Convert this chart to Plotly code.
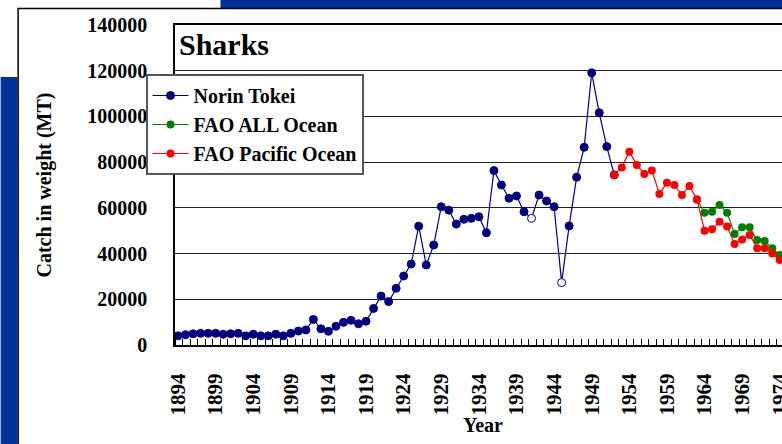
import plotly.graph_objects as go

# ---- data ----
norin_years = list(range(1894, 1953))
norin_catch = [4000, 4500, 4900, 5100, 5100, 5100, 4700, 4900, 5100, 4000,
               4700, 4000, 4000, 4700, 4000, 5100, 6100, 6600, 11200, 7100,
               6000, 8200, 9900, 10800, 9300, 10400, 16000, 21400, 19000, 24800,
               30200, 35400, 52000, 35000, 43750, 60500, 59000, 52900, 55000, 55400,
               56100, 49100, 76300, 70000, 64200, 65200, 58300, 55400, 65600, 63000,
               60500, 27300, 52100, 73400, 86500, 119100, 101600, 86800, 74400]
norin_hollow_years = [1941, 1945]

fao_all_years = list(range(1963, 1975))
fao_all_catch = [63700, 57900, 58300, 61250, 57900, 48600, 51500, 51500,
                 45900, 45500, 42300, 39400]

fao_pac_years = list(range(1952, 1975))
fao_pac_catch = [74400, 77700, 84600, 78750, 74800, 76300, 66100, 71000, 70000,
                 65600, 69600, 63700, 50000, 50600, 53900, 51800, 44200, 46200,
                 48100, 42300, 42300, 40100, 37200]

label_years = list(range(1894, 1975, 5))
y_ticks = list(range(0, 140001, 20000))

FONT = "Liberation Serif, Times New Roman, serif"
NAVY = "#000080"
GREEN = "#008000"
RED = "#FF0000"

fig = go.Figure()

norin_fill = ["white" if y in norin_hollow_years else NAVY for y in norin_years]
fig.add_trace(go.Scatter(
    x=norin_years, y=norin_catch, name="Norin Tokei", mode="lines+markers",
    line=dict(color=NAVY, width=1.2),
    marker=dict(size=8, color=norin_fill, line=dict(color=NAVY, width=1)),
))
fig.add_trace(go.Scatter(
    x=fao_all_years, y=fao_all_catch, name="FAO ALL Ocean", mode="lines+markers",
    line=dict(color=GREEN, width=1.2),
    marker=dict(size=8, color=GREEN, line=dict(width=0)),
))
fig.add_trace(go.Scatter(
    x=fao_pac_years, y=fao_pac_catch, name="FAO Pacific Ocean", mode="lines+markers",
    line=dict(color=RED, width=1.2),
    marker=dict(size=8, color=RED, line=dict(width=0)),
))

# pixel helpers for decoration placement (plot area: x 174.5..782, y 25..345)
L, R, T, B = 174.5, 782.0, 25.0, 345.0
def px(x):
    return (x - L) / (R - L)
def py(y):
    return (B - y) / (B - T)

BLUE = "#003399"
shapes = [
    dict(type="rect", xref="paper", yref="paper", layer="below",
         x0=px(0), x1=px(17), y0=py(444), y1=py(77),
         fillcolor=BLUE, line=dict(width=0)),
    dict(type="rect", xref="paper", yref="paper", layer="below",
         x0=px(220), x1=px(782), y0=py(8), y1=py(0),
         fillcolor=BLUE, line=dict(width=0)),
    dict(type="line", xref="paper", yref="paper", layer="below",
         x0=px(17.5), x1=px(17.5), y0=py(8), y1=py(444),
         line=dict(color="black", width=1.5)),
    dict(type="line", xref="paper", yref="paper", layer="below",
         x0=px(17), x1=px(782), y0=py(8.5), y1=py(8.5),
         line=dict(color="black", width=1.5)),
]

fig.update_layout(
    width=782, height=444,
    margin=dict(l=L, r=0, t=T, b=444 - B, pad=0, autoexpand=False),
    paper_bgcolor="white", plot_bgcolor="white",
    font=dict(family=FONT, color="black", size=20, weight="bold"),
    showlegend=True,
    legend=dict(
        x=px(145), y=py(74), xanchor="left", yanchor="top",
        bgcolor="white", bordercolor="#555555", borderwidth=2,
        font=dict(family=FONT, size=20, weight="bold", color="black"),
        itemwidth=36,
    ),
    shapes=shapes,
    annotations=[
        dict(text="Sharks", xref="paper", yref="paper",
             x=px(177), y=py(26), xanchor="left", yanchor="top", showarrow=False,
             font=dict(family=FONT, size=30, weight="bold", color="black")),
        dict(text="Year", xref="paper", yref="paper",
             x=px(483), y=py(425), xanchor="center", yanchor="middle", showarrow=False,
             font=dict(family=FONT, size=20, weight="bold", color="black")),
    ],
)

fig.update_xaxes(
    range=[1893.6, 1974.3], automargin=False,
    tickmode="array", tickvals=label_years, ticktext=[str(y) for y in label_years],
    tickangle=-90, ticks="", ticklabelstandoff=18, ticklabeloverflow="allow",
    tickfont=dict(family=FONT, size=21, weight="bold"),
    minor=dict(ticks="inside", ticklen=6, tickcolor="black", tickwidth=1,
               tick0=1893.6, dtick=1, showgrid=False),
    showline=True, linecolor="black", linewidth=2, mirror=True,
    showgrid=False, zeroline=False,
)
fig.update_yaxes(
    range=[0, 140000], automargin=False,
    tickmode="array", tickvals=y_ticks, ticktext=[str(v) for v in y_ticks],
    ticks="", ticklabelstandoff=22,
    tickfont=dict(family=FONT, size=20, weight="bold"),
    showline=True, linecolor="black", linewidth=1.5,
    showgrid=True, gridcolor="#222222", gridwidth=1, zeroline=False,
    title=dict(text="Catch in weight (MT)", standoff=30,
               font=dict(family=FONT, size=20, weight="bold")),
)

fig.write_html("out.html", config={"displayModeBar": False},
               post_script="document.body.style.margin='0px';")
